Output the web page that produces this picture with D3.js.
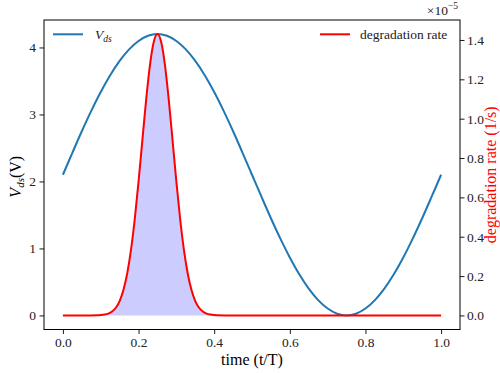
<!DOCTYPE html>
<html>
<head>
<meta charset="utf-8">
<script src="https://cdn.jsdelivr.net/npm/d3@7"></script>
<style>
  body { margin: 0; background: #fff; }
  svg { display: block; font-family: "Liberation Serif", "DejaVu Serif", serif; }
</style>
</head>
<body>
<svg width="500" height="373"></svg>
<script>
// Vds samples, every 0.025 t/T
let vdsTimes = d3.range(41).map(i => i * 0.025);
let vdsValues = [2.100, 2.428, 2.749, 3.053, 3.334, 3.585, 3.799, 3.971, 4.097, 4.174,
                 4.200, 4.174, 4.097, 3.971, 3.799, 3.585, 3.334, 3.053, 2.749, 2.428,
                 2.100, 1.772, 1.451, 1.147, 0.866, 0.615, 0.401, 0.229, 0.103, 0.026,
                 0.000, 0.026, 0.103, 0.229, 0.401, 0.615, 0.866, 1.147, 1.451, 1.772, 2.100];

// degradation rate (x1e-5 1/s)
let degTimes = [0.00, 0.05, 0.09, 0.10, 0.11, 0.12, 0.13, 0.14, 0.15, 0.16, 0.17, 0.18, 0.19,
                0.20, 0.21, 0.22, 0.23, 0.24, 0.25, 0.26, 0.27, 0.28, 0.29, 0.30, 0.31,
                0.32, 0.33, 0.34, 0.35, 0.36, 0.37, 0.38, 0.39, 0.40, 0.41, 0.45, 1.00];
let degValues = [0, 0, 0.0007, 0.0018, 0.0042, 0.0094, 0.020, 0.039, 0.073, 0.129, 0.213, 0.333,
                 0.490, 0.680, 0.888, 1.094, 1.270, 1.388, 1.430, 1.388, 1.270, 1.094, 0.888,
                 0.680, 0.490, 0.333, 0.213, 0.129, 0.073, 0.039, 0.020, 0.0094, 0.0042,
                 0.0018, 0.0007, 0, 0];

let xTicks = [0, 0.2, 0.4, 0.6, 0.8, 1.0];
let yLeftTicks = [0, 1, 2, 3, 4];
let yRightTicks = [0, 0.2, 0.4, 0.6, 0.8, 1.0, 1.2, 1.4];

let svg = d3.select("svg");
let margin = {left: 44, right: 40, top: 20, bottom: 43.5};
let width = 500 - margin.left - margin.right,
    height = 373 - margin.top - margin.bottom;

let g = svg.append("g").attr("transform", `translate(${margin.left},${margin.top})`);

let x = d3.scaleLinear().domain([-0.05, 1.05]).range([0, width]);
let yL = d3.scaleLinear().domain([-0.21, 4.41]).range([height, 0]);
let yR = d3.scaleLinear().domain([-0.0715, 1.5015]).range([height, 0]);

let vds = vdsTimes.map((t, i) => ({t: t, v: vdsValues[i]}));
let deg = degTimes.map((t, i) => ({t: t, v: degValues[i]}));

// shaded area under the degradation rate
g.append("path")
    .datum(deg)
    .attr("fill", "#ccccff")
    .attr("d", d3.area().x(d => x(d.t)).y0(yR(0)).y1(d => yR(d.v)).curve(d3.curveMonotoneX));

g.append("path")
    .datum(vds)
    .attr("fill", "none")
    .attr("stroke", "#1f77b4")
    .attr("stroke-width", 2)
    .attr("d", d3.line().x(d => x(d.t)).y(d => yL(d.v)).curve(d3.curveCatmullRom));

g.append("path")
    .datum(deg)
    .attr("fill", "none")
    .attr("stroke", "#ff0000")
    .attr("stroke-width", 2)
    .attr("d", d3.line().x(d => x(d.t)).y(d => yR(d.v)).curve(d3.curveMonotoneX));

// axes
function styleAxis(sel) {
    sel.attr("font-family", null).attr("font-size", null);
    sel.selectAll("path").remove();
    sel.selectAll("line").attr("stroke", "#000").attr("stroke-width", 0.9);
    sel.selectAll("text").attr("fill", "#222").style("font-size", "13.5px");
}

g.append("g")
    .attr("transform", `translate(0,${height})`)
    .call(d3.axisBottom(x).tickValues(xTicks).tickFormat(d3.format(".1f")).tickSize(4.5).tickPadding(3))
    .call(styleAxis);

g.append("g")
    .call(d3.axisLeft(yL).tickValues(yLeftTicks).tickFormat(d3.format("d")).tickSize(4.5).tickPadding(3.5))
    .call(styleAxis);

g.append("g")
    .attr("transform", `translate(${width},0)`)
    .call(d3.axisRight(yR).tickValues(yRightTicks).tickFormat(d3.format(".1f")).tickSize(4.5).tickPadding(2.5))
    .call(styleAxis);

// frame
g.append("rect")
    .attr("width", width).attr("height", height)
    .attr("fill", "none").attr("stroke", "#000").attr("stroke-width", 1);

// axis labels
g.append("text")
    .attr("x", width / 2).attr("y", height + 35.5)
    .attr("text-anchor", "middle")
    .style("font-size", "16px")
    .text("time (t/T)");

let yl = g.append("text")
    .attr("transform", `translate(${-23.5},${height / 2 + 2}) rotate(-90)`)
    .attr("text-anchor", "middle")
    .style("font-size", "16px");
yl.append("tspan").attr("font-style", "italic").text("V");
yl.append("tspan").attr("font-style", "italic").attr("font-size", "11px").attr("dy", 3.5).text("ds");
yl.append("tspan").attr("dy", -3.5).text("(V)");

g.append("text")
    .attr("transform", `translate(${width + 36},${height / 2}) rotate(-90)`)
    .attr("text-anchor", "middle")
    .attr("fill", "#ff0000")
    .style("font-size", "16px")
    .text("degradation rate (1/s)");

// offset text
let off = g.append("text")
    .attr("x", width - 2).attr("y", -5)
    .attr("text-anchor", "end")
    .attr("fill", "#222")
    .style("font-size", "13.5px");
off.append("tspan").text("×10");
off.append("tspan").attr("dy", -6).attr("font-size", "9.5px").text("−5");

// legends
let legL = g.append("g").attr("transform", "translate(9,14.3)");
legL.append("line").attr("x1", 0).attr("x2", 30).attr("stroke", "#1f77b4").attr("stroke-width", 2);
let lt = legL.append("text").attr("x", 42).attr("y", 4.5).attr("fill", "#222")
    .style("font-size", "13.5px").attr("font-style", "italic");
lt.append("tspan").text("V");
lt.append("tspan").attr("font-size", "9.5px").attr("dy", 3).text("ds");

let legR = g.append("g").attr("transform", "translate(276,14.3)");
legR.append("line").attr("x1", 0).attr("x2", 30).attr("stroke", "#ff0000").attr("stroke-width", 2);
legR.append("text").attr("x", 40).attr("y", 4.5).attr("fill", "#222")
    .style("font-size", "13.5px").text("degradation rate");
</script>
</body>
</html>
